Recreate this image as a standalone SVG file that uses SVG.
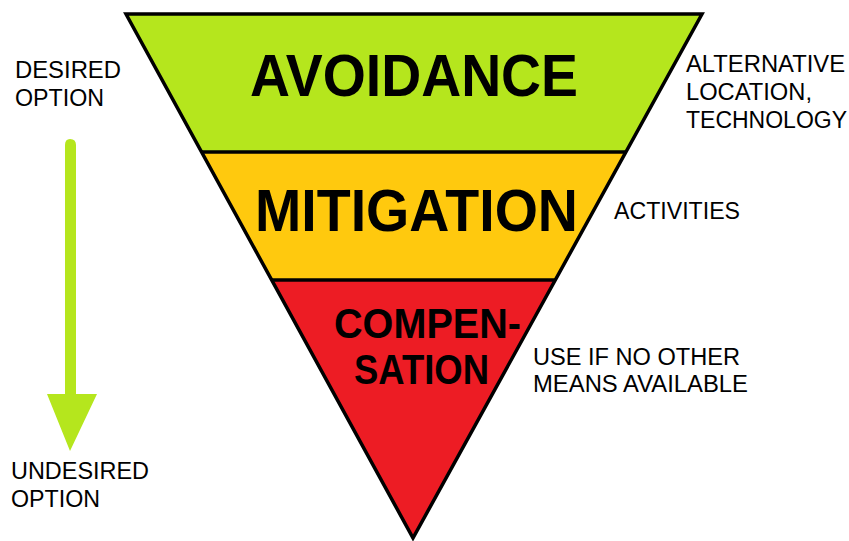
<svg xmlns="http://www.w3.org/2000/svg" width="849" height="541" viewBox="0 0 849 541">
<style>
.big{font-family:"Liberation Sans",Arial,sans-serif;font-weight:bold;fill:#000}
.lbl{font-family:"Liberation Sans",Arial,sans-serif;fill:#000;font-size:23px}
.band{stroke:none}
</style>
<rect width="849" height="541" fill="#fff"/>
<g id="avoidance">
<polygon class="band" points="126,14 702,14 626.3,152 201.6,152" fill="#b5e61d"/>
<text class="big" x="250" y="96" font-size="59" textLength="328" lengthAdjust="spacingAndGlyphs">AVOIDANCE</text>
</g>
<g id="mitigation">
<polygon class="band" points="201.6,152 626.3,152 555.7,280 271.8,280" fill="#ffc90e"/>
<text class="big" x="255" y="231" font-size="60" textLength="323" lengthAdjust="spacingAndGlyphs">MITIGATION</text>
</g>
<g id="compensation">
<polygon class="band" points="271.8,280 555.7,280 413,538" fill="#ed1c24"/>
<text class="big" x="334" y="338" font-size="42" textLength="187" lengthAdjust="spacingAndGlyphs">COMPEN-</text>
<text class="big" x="354" y="384" font-size="42" textLength="135" lengthAdjust="spacingAndGlyphs">SATION</text>
</g>
<g id="outline" fill="none" stroke="#000" stroke-width="3.5" stroke-linejoin="miter">
<polygon points="126,14 702,14 413,538"/>
<line x1="201.6" y1="152" x2="626.3" y2="152"/>
<line x1="271.8" y1="280" x2="555.7" y2="280"/>
</g>
<g id="label-avoidance">
<text class="lbl" x="686" y="72" textLength="159" lengthAdjust="spacingAndGlyphs">ALTERNATIVE</text>
<text class="lbl" x="686" y="100" textLength="126" lengthAdjust="spacingAndGlyphs">LOCATION,</text>
<text class="lbl" x="686" y="128" textLength="161" lengthAdjust="spacingAndGlyphs">TECHNOLOGY</text>
</g>
<g id="label-mitigation">
<text class="lbl" x="614" y="219" textLength="126" lengthAdjust="spacingAndGlyphs">ACTIVITIES</text>
</g>
<g id="label-compensation">
<text class="lbl" x="533" y="365" textLength="207" lengthAdjust="spacingAndGlyphs">USE IF NO OTHER</text>
<text class="lbl" x="533" y="392" textLength="215" lengthAdjust="spacingAndGlyphs">MEANS AVAILABLE</text>
</g>
<g id="desired">
<text class="lbl" x="15" y="78" textLength="106" lengthAdjust="spacingAndGlyphs">DESIRED</text>
<text class="lbl" x="15" y="106" textLength="89" lengthAdjust="spacingAndGlyphs">OPTION</text>
</g>
<g id="undesired">
<text class="lbl" x="11" y="479" textLength="138" lengthAdjust="spacingAndGlyphs">UNDESIRED</text>
<text class="lbl" x="11" y="507" textLength="89" lengthAdjust="spacingAndGlyphs">OPTION</text>
</g>
<g id="connectors">
<path d="M65,145 Q65,139 70,139 Q76,139 76,145 L76,394 L97,394 L70,451 L47,394 L65,394 Z" fill="#b5e61d"/>
</g>
</svg>
